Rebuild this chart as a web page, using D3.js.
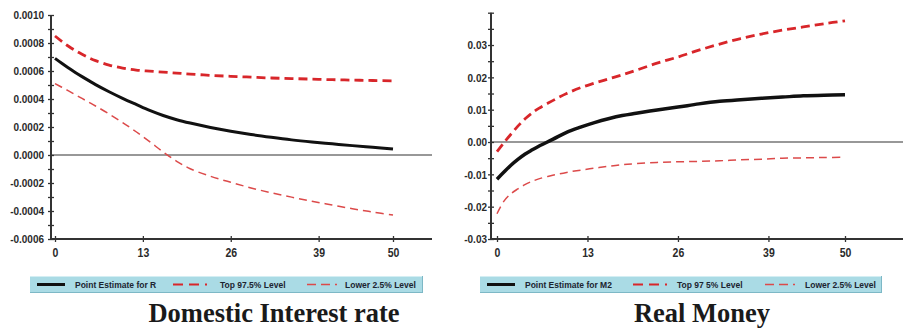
<!DOCTYPE html>
<html>
<head>
<meta charset="utf-8">
<script src="https://cdn.jsdelivr.net/npm/d3@7"></script>
<style>
  html, body { margin: 0; padding: 0; background: #fff; }
  svg { display: block; }
  .tick text { font-family: "Liberation Sans", Arial, sans-serif; font-weight: bold; fill: #2a2a2a; }
  .legend text { font-family: "Liberation Sans", Arial, sans-serif; font-weight: bold; font-size: 8.5px; fill: #1c2430; }
  .title { font-family: "Liberation Serif", "Times New Roman", serif; font-weight: bold; font-size: 26.5px; fill: #1a1a1a; }
</style>
</head>
<body>
<svg id="chart" width="903" height="331"></svg>
<script>
// Impulse-response horizons (periods after the shock)
const periods = [0, 1, 2, 3, 4, 5, 6, 8, 10, 12, 14, 16, 18, 20, 23, 26, 29, 32, 35, 38, 41, 44, 47, 50];
const xTickValues = [0, 13, 26, 39, 50];

// Domestic interest rate: point estimate and 95% band
const rPoint = [0.00069, 0.000655, 0.000622, 0.00059, 0.00056, 0.000531, 0.000503, 0.000452, 0.000405, 0.000361, 0.000318, 0.000282, 0.000252, 0.000228, 0.000197, 0.00017, 0.000146, 0.000126, 0.000108, 0.000093, 0.00008, 0.000067, 0.000055, 0.000043];
const rUpper = [0.00085, 0.000812, 0.000777, 0.000746, 0.000719, 0.000695, 0.000674, 0.000642, 0.000621, 0.000607, 0.000599, 0.000592, 0.000585, 0.000578, 0.000569, 0.000562, 0.000556, 0.00055, 0.000546, 0.000542, 0.000538, 0.000535, 0.000532, 0.00053];
const rLower = [0.00051, 0.000484, 0.000458, 0.000431, 0.000404, 0.000377, 0.00035, 0.000293, 0.000232, 0.000166, 0.000095, 0.000022, -0.000045, -0.000098, -0.000152, -0.000195, -0.000235, -0.00027, -0.000301, -0.00033, -0.000357, -0.000384, -0.000407, -0.000429];

// Real money (M2): point estimate and 95% band
const mPoint = [-0.0115, -0.0093, -0.0072, -0.0054, -0.0038, -0.0025, -0.0013, 0.0008, 0.003, 0.0046, 0.006, 0.0072, 0.0082, 0.0089, 0.0099, 0.0108, 0.0118, 0.0126, 0.0131, 0.0135, 0.0139, 0.0143, 0.0145, 0.0146];
const mUpper = [-0.003, -0.0002, 0.0024, 0.0049, 0.0071, 0.0089, 0.0104, 0.0128, 0.015, 0.0168, 0.0182, 0.0195, 0.0208, 0.0222, 0.0244, 0.0263, 0.0284, 0.0303, 0.032, 0.0334, 0.0346, 0.0356, 0.0366, 0.0375];
const mLower = [-0.0222, -0.0183, -0.016, -0.0145, -0.0132, -0.0122, -0.0114, -0.0103, -0.0094, -0.0087, -0.0081, -0.0075, -0.007, -0.0067, -0.0063, -0.0061, -0.006, -0.0058, -0.0055, -0.0053, -0.005, -0.0049, -0.0048, -0.0047];

// Vertical axis ranges and labels
const rDomain = [-0.0006, 0.0010];
const rLabels = [-0.0006, -0.0004, -0.0002, 0.0000, 0.0002, 0.0004, 0.0006, 0.0008, 0.0010];
const mDomain = [-0.03, 0.04];
const mLabels = [-0.03, -0.02, -0.01, 0.00, 0.01, 0.02, 0.03];

const legendR = ["Point Estimate for R", "Top 97.5% Level", "Lower 2.5% Level"];
const legendM = ["Point Estimate for M2", "Top 97 5% Level", "Lower 2.5% Level"];
const titles = ["Domestic Interest rate", "Real Money"];

const loc = d3.formatLocale({ decimal: ".", thousands: ",", grouping: [3], currency: ["", ""], minus: "-" });
const svg = d3.select("#chart");

const panels = [
  {
    point: rPoint, upper: rUpper, lower: rLower, pointWidth: 3,
    domain: rDomain, labels: rLabels, minorStep: 0.0001, fmt: loc.format(".4f"),
    axisX: 51, axisEnd: 432, xRange: [55, 393], yRange: [239, 15],
    labelPad: 7, legend: legendR, legendBox: [30, 423],
    legendOffsets: [7, 45, 143, 190, 277, 315],
    title: titles[0], titleX: 274
  },
  {
    point: mPoint, upper: mUpper, lower: mLower, pointWidth: 3.5,
    domain: mDomain, labels: mLabels, minorStep: 0.005, fmt: loc.format(".2f"),
    axisX: 491, axisEnd: 903, xRange: [497, 845], yRange: [239, 12.7],
    labelPad: 4, legend: legendM, legendBox: [480, 882],
    legendOffsets: [7, 45, 153, 197, 285, 325],
    title: titles[1], titleX: 702
  }
];

const upperColor = "#d8262a";
const lowerColor = "#dc4a4a";
const axisColor = "#333";

panels.forEach(p => {
  const x = d3.scaleLinear().domain([0, 50]).range(p.xRange);
  const y = d3.scaleLinear().domain(p.domain).range(p.yRange);
  const g = svg.append("g");

  // y ticks every minor step, labels on the major ones
  const nSteps = Math.round((p.domain[1] - p.domain[0]) / p.minorStep);
  const allTicks = d3.range(nSteps + 1).map(i => +(p.domain[0] + i * p.minorStep).toFixed(6));
  const isLabel = v => p.labels.some(l => Math.abs(l - v) < p.minorStep / 10);

  const yAxisL = d3.axisLeft(y).tickValues(allTicks).tickSize(3).tickPadding(p.labelPad - 3)
    .tickFormat(v => isLabel(v) ? p.fmt(v) : "");
  const yAxisR = d3.axisRight(y).tickValues(allTicks).tickSize(3).tickFormat("");
  const ga = g.append("g").attr("transform", `translate(${p.axisX},0)`).call(yAxisL);
  const gb = g.append("g").attr("transform", `translate(${p.axisX},0)`).call(yAxisR);
  [ga, gb].forEach(s => {
    s.select(".domain").remove();
    s.selectAll("line").attr("stroke", axisColor).attr("stroke-width", 1.3);
  });
  ga.selectAll("text").style("font-size", "10px").attr("transform", "scale(1,1.15)");

  // x axis ticks crossing the bottom line
  const bottom = p.yRange[0];
  const xAxisB = d3.axisBottom(x).tickValues(xTickValues).tickSize(3).tickPadding(6).tickFormat(d3.format("d"));
  const xAxisT = d3.axisTop(x).tickValues(xTickValues).tickSize(3).tickFormat("");
  const gx1 = g.append("g").attr("transform", `translate(0,${bottom})`).call(xAxisB);
  const gx2 = g.append("g").attr("transform", `translate(0,${bottom})`).call(xAxisT);
  [gx1, gx2].forEach(s => {
    s.select(".domain").remove();
    s.selectAll("line").attr("stroke", axisColor).attr("stroke-width", 1.3);
  });
  gx1.selectAll("text").style("font-size", "10.5px").attr("transform", "scale(1,1.25)").attr("dy", "0.55em");

  // axis lines and the zero line
  g.append("line").attr("x1", p.axisX).attr("x2", p.axisX).attr("y1", p.yRange[1]).attr("y2", bottom)
    .attr("stroke", axisColor).attr("stroke-width", 2);
  g.append("line").attr("x1", p.axisX).attr("x2", p.axisEnd).attr("y1", bottom).attr("y2", bottom)
    .attr("stroke", axisColor).attr("stroke-width", 2);
  g.append("line").attr("x1", p.axisX).attr("x2", p.axisEnd).attr("y1", y(0)).attr("y2", y(0))
    .attr("stroke", axisColor).attr("stroke-width", 1.2);

  const line = d3.line().x((d, i) => x(periods[i])).y(d => y(d)).curve(d3.curveCatmullRom.alpha(0.5));

  g.append("path").datum(p.lower).attr("d", line).attr("fill", "none")
    .attr("stroke", lowerColor).attr("stroke-width", 1.5).attr("stroke-dasharray", "8,5");
  g.append("path").datum(p.upper).attr("d", line).attr("fill", "none")
    .attr("stroke", upperColor).attr("stroke-width", 2.8).attr("stroke-dasharray", "9,5");
  g.append("path").datum(p.point).attr("d", line).attr("fill", "none")
    .attr("stroke", "#111").attr("stroke-width", p.pointWidth);

  // legend band
  const lg = g.append("g").attr("class", "legend");
  const [lx0, lx1] = p.legendBox;
  lg.append("rect").attr("x", lx0).attr("y", 276).attr("width", lx1 - lx0).attr("height", 17)
    .attr("fill", "#aadbe5");
  lg.append("line").attr("x1", lx0).attr("x2", lx1).attr("y1", 276.5).attr("y2", 276.5).attr("stroke", "#d4eef3");
  lg.append("line").attr("x1", lx0).attr("x2", lx1).attr("y1", 292.5).attr("y2", 292.5).attr("stroke", "#7db8c6");
  lg.append("line").attr("x1", lx1 - 0.5).attr("x2", lx1 - 0.5).attr("y1", 276).attr("y2", 293).attr("stroke", "#7db8c6");

  const o = p.legendOffsets;
  const ly = 284.5;
  lg.append("line").attr("x1", lx0 + o[0]).attr("x2", lx0 + o[0] + 28).attr("y1", ly).attr("y2", ly)
    .attr("stroke", "#111").attr("stroke-width", 3);
  lg.append("line").attr("x1", lx0 + o[2]).attr("x2", lx0 + o[2] + 34).attr("y1", ly).attr("y2", ly)
    .attr("stroke", upperColor).attr("stroke-width", 2).attr("stroke-dasharray", "10,6");
  lg.append("line").attr("x1", lx0 + o[4]).attr("x2", lx0 + o[4] + 30).attr("y1", ly).attr("y2", ly)
    .attr("stroke", lowerColor).attr("stroke-width", 1.3).attr("stroke-dasharray", "9,5");
  [1, 3, 5].forEach((k, i) => {
    lg.append("text").attr("x", lx0 + o[k]).attr("y", ly + 3).text(p.legend[i]);
  });

  svg.append("text").attr("class", "title").attr("x", p.titleX).attr("y", 321.5)
    .attr("text-anchor", "middle").text(p.title);
});
</script>
</body>
</html>
